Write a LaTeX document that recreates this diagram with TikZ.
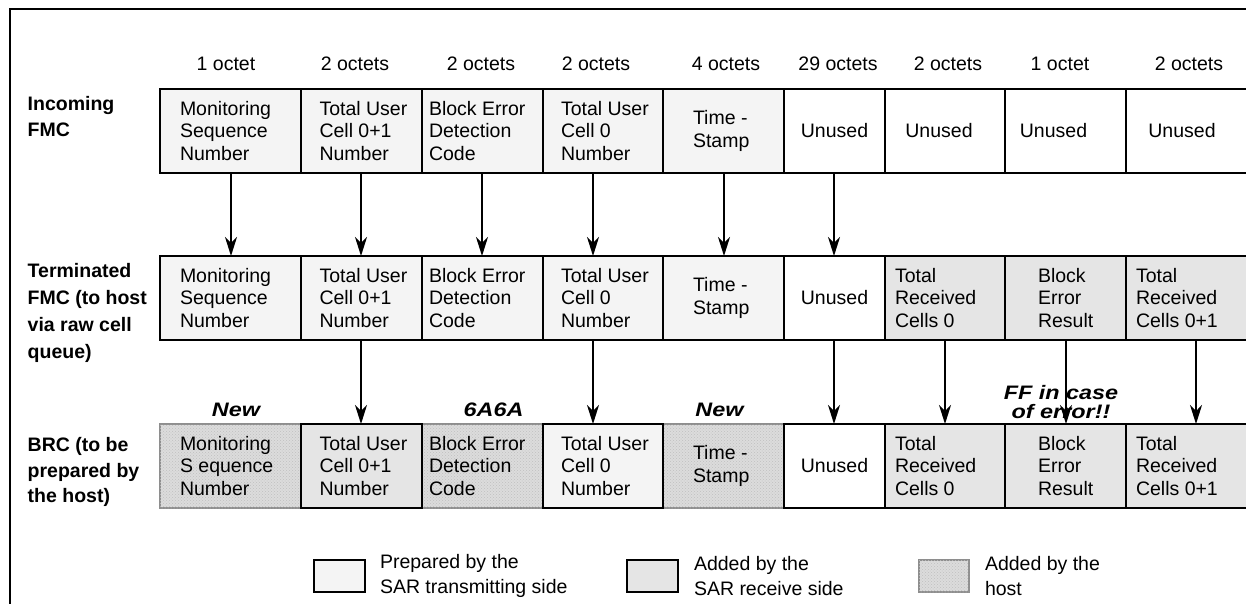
\documentclass[tikz,border=0pt]{standalone}
\usepackage{fontspec}
\setmainfont{Liberation Sans}
\newfontfamily\lblfont{Liberation Sans}[FakeStretch=1.2]
\usetikzlibrary{arrows.meta,patterns}
\definecolor{lite}{HTML}{F4F4F4}
\definecolor{mid}{HTML}{E5E5E5}
\definecolor{stip}{HTML}{DCDCDC}
\definecolor{stipedge}{HTML}{8E8E8E}
\begin{document}
\begin{tikzpicture}[x=1pt,y=-1pt,
  every node/.style={inner sep=0pt,outer sep=0pt},
  cellbox/.style={draw=black,line width=2.2pt,anchor=north west,minimum height=84pt},
  hostbox/.style={draw=stipedge,line width=2pt,fill=stip,anchor=north west,minimum height=84pt,
     postaction={pattern=crosshatch dots,pattern color=black!25}},
  txt/.style={font=\fontsize{19.5}{22.7}\selectfont,align=left,anchor=west},
  ctxt/.style={font=\fontsize{19.5}{22.7}\selectfont,align=center},
  rowlbl/.style={align=left,anchor=west},
  note/.style={font=\lblfont\bfseries\itshape\fontsize{19.5}{19.3}\selectfont,align=center},
  arr/.style={line width=1.8pt,-{Stealth[length=19pt,width=12pt,inset=6pt]}}
]
\useasboundingbox (0,0) rectangle (1246,604);
\clip (0,0) rectangle (1246,604);
% frame
\draw[line width=2.5pt] (10,610) -- (10,9) -- (1260,9);

% octet labels
\foreach \x/\t in {226/1 octet,355/2 octets,481/2 octets,596/2 octets,726/4 octets,838/29 octets,948/2 octets,1060/1 octet,1189/2 octets}
  \node[ctxt] at (\x,64) {\t};

% row labels
\node[rowlbl,font=\bfseries\fontsize{19.5}{26}\selectfont] (lab1) at (27.7,116.5) {Incoming\\FMC};
\node[rowlbl,font=\bfseries\fontsize{19.5}{26.7}\selectfont] (lab2) at (27.7,313) {Terminated\\FMC (to host\\via raw cell\\queue)};
\node[rowlbl,font=\bfseries\fontsize{19.5}{25.5}\selectfont] (lab3) at (27.7,472) {BRC (to be\\prepared by\\the host)};

% ---- row 1
\node[cellbox,fill=lite,minimum width=141pt] (r1c1) at (160,89) {};
\node[cellbox,fill=lite,minimum width=121pt] (r1c2) at (301,89) {};
\node[cellbox,fill=lite,minimum width=121pt] (r1c3) at (422,89) {};
\node[cellbox,fill=lite,minimum width=120pt] (r1c4) at (543,89) {};
\node[cellbox,fill=lite,minimum width=121pt] (r1c5) at (663,89) {};
\node[cellbox,fill=white,minimum width=101pt] (r1c6) at (784,89) {};
\node[cellbox,fill=white,minimum width=120pt] (r1c7) at (885,89) {};
\node[cellbox,fill=white,minimum width=121pt] (r1c8) at (1005,89) {};
\node[cellbox,fill=white,minimum width=134pt] (r1c9) at (1126,89) {};

% ---- row 2
\node[cellbox,fill=lite,minimum width=141pt] (r2c1) at (160,256) {};
\node[cellbox,fill=lite,minimum width=121pt] (r2c2) at (301,256) {};
\node[cellbox,fill=lite,minimum width=121pt] (r2c3) at (422,256) {};
\node[cellbox,fill=lite,minimum width=120pt] (r2c4) at (543,256) {};
\node[cellbox,fill=lite,minimum width=121pt] (r2c5) at (663,256) {};
\node[cellbox,fill=white,minimum width=101pt] (r2c6) at (784,256) {};
\node[cellbox,fill=mid,minimum width=120pt] (r2c7) at (885,256) {};
\node[cellbox,fill=mid,minimum width=121pt] (r2c8) at (1005,256) {};
\node[cellbox,fill=mid,minimum width=134pt] (r2c9) at (1126,256) {};

% ---- row 3 (host cells first, black-bordered cells on top)
\node[hostbox,minimum width=141pt] (r3c1) at (160,424) {};
\node[hostbox,minimum width=121pt] (r3c3) at (422,424) {};
\node[hostbox,minimum width=121pt] (r3c5) at (663,424) {};
\node[cellbox,fill=mid,minimum width=121pt] (r3c2) at (301,424) {};
\node[cellbox,fill=lite,minimum width=120pt] (r3c4) at (543,424) {};
\node[cellbox,fill=white,minimum width=101pt] (r3c6) at (784,424) {};
\node[cellbox,fill=mid,minimum width=120pt] (r3c7) at (885,424) {};
\node[cellbox,fill=mid,minimum width=121pt] (r3c8) at (1005,424) {};
\node[cellbox,fill=mid,minimum width=134pt] (r3c9) at (1126,424) {};

% ---- cell texts
\foreach \r in {1,2} {
  \node[txt] at ([xshift=20pt]r\r c1.west) {Monitoring\\Sequence\\Number};
}
\node[txt] at ([xshift=20pt]r3c1.west) {Monitoring\\S equence\\Number};
\foreach \r in {1,2,3} {
  \node[txt] at ([xshift=18.5pt]r\r c2.west) {Total User\\Cell 0+1\\Number};
  \node[txt] at ([xshift=7pt]r\r c3.west) {Block Error\\Detection\\Code};
  \node[txt] at ([xshift=18pt]r\r c4.west) {Total User\\Cell 0\\Number};
  \node[txt] at ([xshift=30pt]r\r c5.west) {Time -\\Stamp};
  \node[ctxt] at (r\r c6.center) {Unused};
}
\node[ctxt] at ([xshift=-6pt]r1c7.center) {Unused};
\node[ctxt] at ([xshift=-12pt]r1c8.center) {Unused};
\node[ctxt] at ([xshift=-11pt]r1c9.center) {Unused};
\foreach \r in {2,3} {
  \node[txt] at ([xshift=10pt]r\r c7.west) {Total\\Received\\Cells 0};
  \node[txt] at ([xshift=33pt]r\r c8.west) {Block\\Error\\Result};
  \node[txt] at ([xshift=10pt]r\r c9.west) {Total\\Received\\Cells 0+1};
}

% ---- notes above row 3
\node[note] (n1) at (236,410) {New};
\node[note] (n2) at (493.5,410) {6A6A};
\node[note] (n3) at (719.5,410) {New};
\node[note] (n4) at (1061,402) {FF in case\\of error!!};

% ---- arrows
\foreach \x [count=\i] in {231,361,482,593,724,834} {
  \coordinate (a\i) at (\x,0);
  \draw[arr] (a\i |- r1c1.south) -- (a\i |- r2c1.north);
}
\foreach \x [count=\i] in {361,593,834,945,1066,1196} {
  \coordinate (b\i) at (\x,0);
  \draw[arr] (b\i |- r2c1.south) -- (b\i |- r3c1.north);
}

% ---- legend
\node[cellbox,fill=lite,minimum width=51pt,minimum height=32pt] (k1) at (314,560) {};
\node[txt,font=\fontsize{19.5}{25}\selectfont] at ([xshift=15pt]k1.east) {Prepared by the\\SAR transmitting side};
\node[cellbox,fill=mid,minimum width=51pt,minimum height=32pt] (k2) at (627,560) {};
\node[txt,font=\fontsize{19.5}{25}\selectfont] at ([xshift=16pt]k2.east) {Added by the\\SAR receive side};
\node[hostbox,minimum width=50pt,minimum height=32pt] (k3) at (919,560) {};
\node[txt,font=\fontsize{19.5}{25}\selectfont] at ([xshift=16pt]k3.east) {Added by the\\host};
\end{tikzpicture}
\end{document}
